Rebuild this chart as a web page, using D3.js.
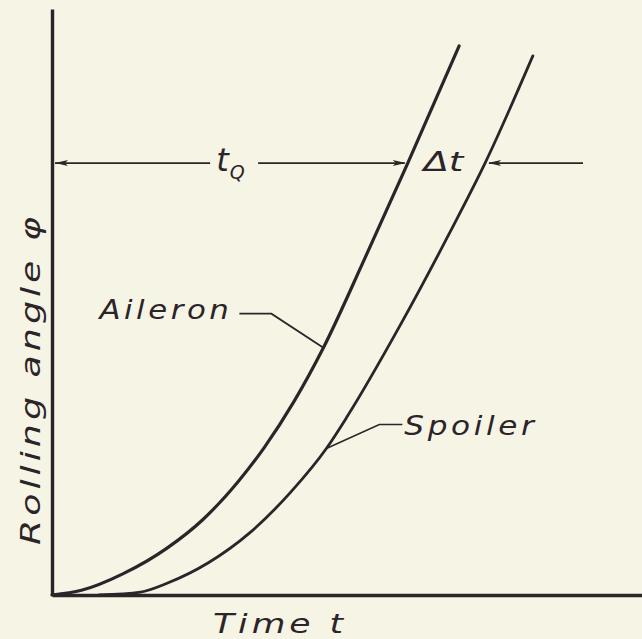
<!DOCTYPE html>
<html>
<head>
<meta charset="utf-8">
<script src="https://cdn.jsdelivr.net/npm/d3@7"></script>
<style>
  html, body { margin: 0; padding: 0; background: #f6f4e4; }
  svg { display: block; }
  text { font-family: "DejaVu Sans", sans-serif; font-style: oblique; fill: #2b2429; }
  .lettering { letter-spacing: 3px; }
</style>
</head>
<body>
<svg id="chart" width="642" height="639"></svg>
<script>
// Rolling angle build-up after control deflection (arbitrary units)
const tMax = 10;
const phiMax = 10;

const aileronT   = [0, 0.5, 1.2, 1.95, 2.55, 3.15, 3.6, 4.1, 4.6, 5.3, 6.03, 6.9];
const aileronPhi = [0, 0.08, 0.36, 0.80, 1.28, 1.93, 2.52, 3.30, 4.22, 5.74, 7.37, 9.37];

const spoilerT   = [0.8, 1.5, 1.95, 2.65, 3.35, 4.05, 4.65, 5.0, 5.9, 6.75, 7.34, 8.15];
const spoilerPhi = [0, 0.05, 0.2, 0.55, 1.06, 1.76, 2.5, 3.04, 4.6, 6.2, 7.37, 9.2];

// reference roll angle and the times at which each control reaches it
const phiRef = 7.37;
const tQ = 6.03;
const deltaT = 1.31;
const tQLabelAt = 3.07;
const arrowTailAt = 9.0;

// leader anchor indices on each curve
const aileronLeaderIdx = 8;
const spoilerLeaderIdx = 6;

const axisLabels = { t: "Time t", phi: "Rolling angle φ" };
const curveLabels = ["Aileron", "Spoiler"];

const ink = "#2b2429";
const svg = d3.select("#chart");

const x = d3.scaleLinear().domain([0, tMax]).range([52, 642]);
const y = d3.scaleLinear().domain([0, phiMax]).range([595, 9]);

// bare axes: domain lines only
const xAxis = d3.axisBottom(x).tickValues([]).tickSizeOuter(0);
const yAxis = d3.axisLeft(y).tickValues([]).tickSizeOuter(0);
svg.append("g").attr("transform", `translate(0,${y(0)})`).call(xAxis)
  .select(".domain").attr("stroke", ink).attr("stroke-width", 3.6);
svg.append("g").attr("transform", `translate(${x(0)},0)`).call(yAxis)
  .select(".domain").attr("stroke", ink).attr("stroke-width", 3.4);

const line = d3.line()
  .x(d => x(d[0]))
  .y(d => y(d[1]))
  .curve(d3.curveMonotoneX);

const aileron = d3.zip(aileronT, aileronPhi);
const spoiler = d3.zip(spoilerT, spoilerPhi);

svg.append("path").datum(aileron).attr("d", line)
  .attr("fill", "none").attr("stroke", ink).attr("stroke-width", 3.2)
  .attr("stroke-linecap", "round");
svg.append("path").datum(spoiler).attr("d", line)
  .attr("fill", "none").attr("stroke", ink).attr("stroke-width", 2.8)
  .attr("stroke-linecap", "round");

// dimension arrows at the reference angle
const yr = y(phiRef);
function arrowHead(tipX, dir) {
  const len = 13, half = 3;
  const p = d3.path();
  p.moveTo(tipX, yr);
  p.lineTo(tipX - dir * len, yr - half);
  p.lineTo(tipX - dir * (len - 3), yr);
  p.lineTo(tipX - dir * len, yr + half);
  p.closePath();
  svg.append("path").attr("d", p.toString()).attr("fill", ink);
}
function segment(x1, x2) {
  svg.append("line").attr("x1", x1).attr("x2", x2).attr("y1", yr).attr("y2", yr)
    .attr("stroke", ink).attr("stroke-width", 1.6);
}
segment(x(0) + 3, x(tQLabelAt) - 23);
arrowHead(x(0) + 3, -1);
segment(x(tQLabelAt) + 25, x(tQ) - 3);
arrowHead(x(tQ) - 2, 1);
segment(x(tQ + deltaT) + 4, x(arrowTailAt));
arrowHead(x(tQ + deltaT) + 3, -1);

// t_Q label
const tq = svg.append("text").attr("x", x(tQLabelAt) - 17).attr("y", yr + 8)
  .attr("font-size", 32);
tq.append("tspan").text("t");
tq.append("tspan").attr("dy", 8).attr("dx", 1).attr("font-size", 19).text("Q");

// Δt label between the curves
svg.append("text")
  .attr("x", (x(tQ) + x(tQ + deltaT)) / 2 - 3)
  .attr("y", yr + 8)
  .attr("text-anchor", "middle")
  .attr("font-size", 26)
  .attr("textLength", 40).attr("lengthAdjust", "spacingAndGlyphs")
  .text("Δt");

// curve labels with leaders
const aP = aileron[aileronLeaderIdx];
const aX = x(aP[0]), aY = y(aP[1]);
svg.append("polyline")
  .attr("points", [[aX - 84, aY - 34], [aX - 52, aY - 34], [aX, aY]].map(p => p.join(",")).join(" "))
  .attr("fill", "none").attr("stroke", ink).attr("stroke-width", 1.8);
svg.append("text").attr("class", "lettering").attr("x", aX - 224).attr("y", aY - 29)
  .attr("font-size", 26).attr("textLength", 133).attr("lengthAdjust", "spacingAndGlyphs")
  .text(curveLabels[0]);

const sP = spoiler[spoilerLeaderIdx];
const sX = x(sP[0]), sY = y(sP[1]);
svg.append("polyline")
  .attr("points", [[sX, sY], [sX + 53, sY - 24], [sX + 76, sY - 24]].map(p => p.join(",")).join(" "))
  .attr("fill", "none").attr("stroke", ink).attr("stroke-width", 1.6);
svg.append("text").attr("class", "lettering").attr("x", sX + 78).attr("y", sY - 14)
  .attr("font-size", 26).attr("textLength", 133).attr("lengthAdjust", "spacingAndGlyphs")
  .text(curveLabels[1]);

// axis titles
svg.append("text").attr("class", "lettering").attr("x", 213).attr("y", 633)
  .attr("font-size", 26).attr("textLength", 134).attr("lengthAdjust", "spacingAndGlyphs")
  .text(axisLabels.t);

svg.append("text").attr("class", "lettering")
  .attr("transform", "translate(40,545) rotate(-90)")
  .attr("font-size", 27).attr("textLength", 332).attr("lengthAdjust", "spacingAndGlyphs")
  .text(axisLabels.phi);
</script>
</body>
</html>
